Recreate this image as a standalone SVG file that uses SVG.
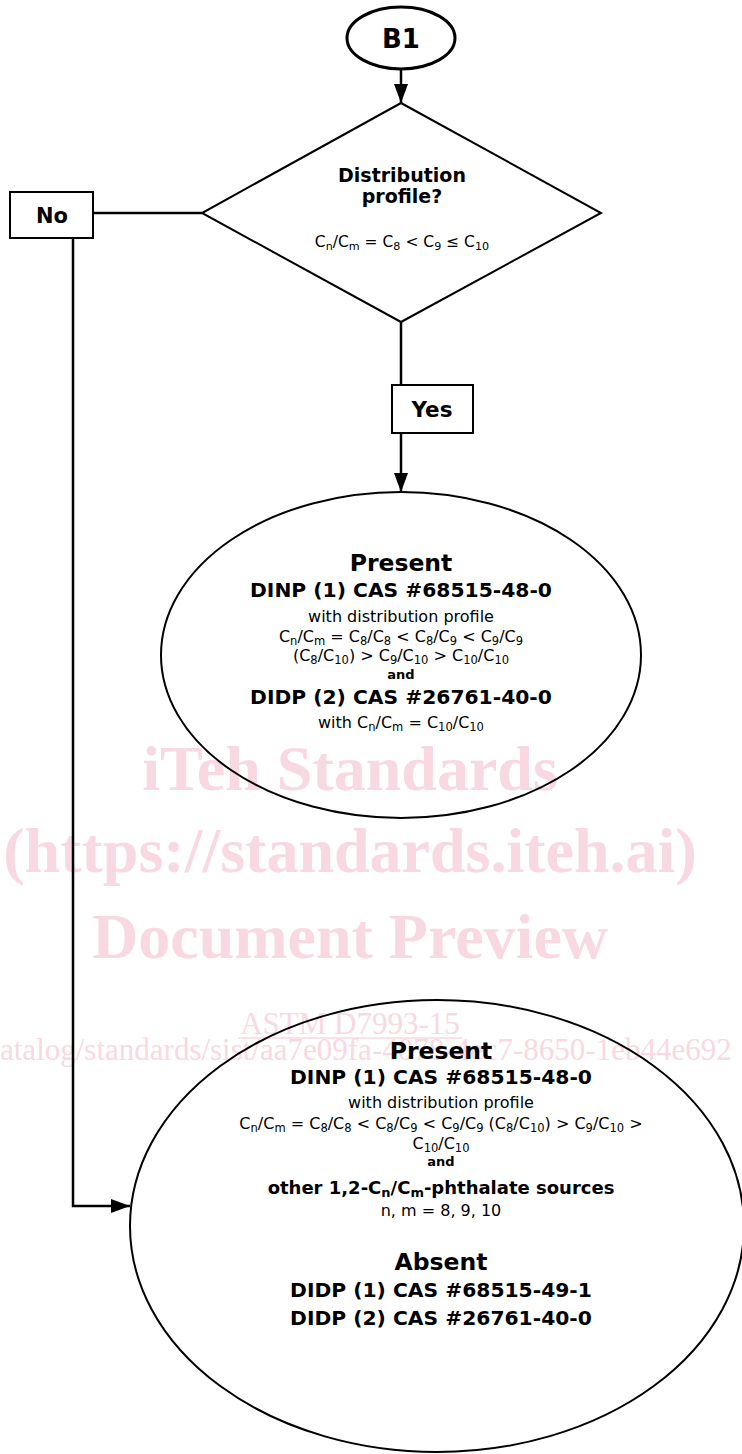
<svg xmlns="http://www.w3.org/2000/svg" width="742" height="1454" viewBox="0 0 742 1454">
<style>
.wm{font-family:"Liberation Serif","Times New Roman",serif;fill:#f8d9e1;text-anchor:middle}
.wmb{font-weight:bold;font-size:64px}
.wms{font-size:31px}
.shape{fill:none;stroke:#000;stroke-width:2}
.t{font-family:"DejaVu Sans",Verdana,sans-serif;fill:#000;text-anchor:middle}
.b{font-weight:bold}
.r{font-size:16px}
.h{font-size:20.3px;font-weight:bold}
.s{font-size:72%;baseline-shift:-3px}
.conn{fill:none;stroke:#000;stroke-width:2.5}
</style>
<defs>
<marker id="ah" markerUnits="userSpaceOnUse" markerWidth="20" markerHeight="14" refX="19" refY="7" orient="auto">
<path d="M0,0 L19,7 L0,14 z" fill="#000"/>
</marker>
</defs>
<rect width="742" height="1454" fill="#fff"/>
<g id="watermark">
<text class="wm wmb" x="350" y="790">iTeh Standards</text>
<text class="wm wmb" x="350" y="872">(https://standards.iteh.ai)</text>
<text class="wm wmb" x="350" y="958">Document Preview</text>
<text class="wm wms" x="350" y="1034">ASTM D7993-15</text>
<line x1="238" y1="1038" x2="462" y2="1038" stroke="#f8d9e1" stroke-width="1.5"/>
<text class="wm wms" x="0" y="1060" style="text-anchor:start">atalog/standards/sist/aa7e09fa-4078-4ec7-8650-1eb44e692</text>
</g>
<g id="connectors">
<line class="conn" x1="401" y1="69" x2="401" y2="103" marker-end="url(#ah)"/>
<line class="conn" x1="202" y1="213" x2="93" y2="213"/>
<polyline class="conn" points="73,238 73,1206 130,1206" marker-end="url(#ah)"/>
<line class="conn" x1="401" y1="322" x2="401" y2="385"/>
<line class="conn" x1="401" y1="433" x2="401" y2="492" marker-end="url(#ah)"/>
</g>
<g id="b1">
<ellipse cx="401" cy="38" rx="54" ry="31" fill="#fff" stroke="#000" stroke-width="3"/>
<text class="t b" x="401" y="48" font-size="26">B1</text>
</g>
<g id="decision">
<polygon class="shape" points="401,103 601,213 401,322 202,213" fill="#fff"/>
<text class="t b" x="402" y="182" font-size="19">Distribution</text>
<text class="t b" x="402" y="203" font-size="19">profile?</text>
<text class="t" x="402" y="247" font-size="15.5">C<tspan class="s">n</tspan>/C<tspan class="s">m</tspan> = C<tspan class="s">8</tspan> &lt; C<tspan class="s">9</tspan> ≤ C<tspan class="s">10</tspan></text>
</g>
<g id="no">
<rect class="shape" x="10" y="192" width="83" height="46" fill="#fff"/>
<text class="t b" x="52" y="223" font-size="21">No</text>
</g>
<g id="yes">
<rect class="shape" x="392" y="385" width="81" height="48" fill="#fff"/>
<text class="t b" x="432" y="417" font-size="21.5">Yes</text>
</g>
<g id="result1">
<ellipse class="shape" cx="401" cy="655" rx="240" ry="163"/>
<text class="t b" x="401" y="571" font-size="23.5">Present</text>
<text class="t h" x="401" y="597">DINP (1) CAS #68515-48-0</text>
<text class="t r" x="401" y="622">with distribution profile</text>
<text class="t r" x="401" y="642">C<tspan class="s">n</tspan>/C<tspan class="s">m</tspan> = C<tspan class="s">8</tspan>/C<tspan class="s">8</tspan> &lt; C<tspan class="s">8</tspan>/C<tspan class="s">9</tspan> &lt; C<tspan class="s">9</tspan>/C<tspan class="s">9</tspan></text>
<text class="t r" x="401" y="661">(C<tspan class="s">8</tspan>/C<tspan class="s">10</tspan>) &gt; C<tspan class="s">9</tspan>/C<tspan class="s">10</tspan> &gt; C<tspan class="s">10</tspan>/C<tspan class="s">10</tspan></text>
<text class="t b" x="401" y="679" font-size="13">and</text>
<text class="t h" x="401" y="704">DIDP (2) CAS #26761-40-0</text>
<text class="t r" x="401" y="728">with C<tspan class="s">n</tspan>/C<tspan class="s">m</tspan> = C<tspan class="s">10</tspan>/C<tspan class="s">10</tspan></text>
</g>
<g id="result2">
<ellipse class="shape" cx="437" cy="1226" rx="307" ry="226"/>
<text class="t b" x="441" y="1059" font-size="23.5">Present</text>
<text class="t h" x="441" y="1084">DINP (1) CAS #68515-48-0</text>
<text class="t r" x="441" y="1108">with distribution profile</text>
<text class="t r" x="441" y="1129">C<tspan class="s">n</tspan>/C<tspan class="s">m</tspan> = C<tspan class="s">8</tspan>/C<tspan class="s">8</tspan> &lt; C<tspan class="s">8</tspan>/C<tspan class="s">9</tspan> &lt; C<tspan class="s">9</tspan>/C<tspan class="s">9</tspan> (C<tspan class="s">8</tspan>/C<tspan class="s">10</tspan>) &gt; C<tspan class="s">9</tspan>/C<tspan class="s">10</tspan> &gt;</text>
<text class="t r" x="441" y="1149">C<tspan class="s">10</tspan>/C<tspan class="s">10</tspan></text>
<text class="t b" x="441" y="1166" font-size="13">and</text>
<text class="t b" x="441" y="1194" font-size="18">other 1,2-C<tspan class="s">n</tspan>/C<tspan class="s">m</tspan>-phthalate sources</text>
<text class="t r" x="441" y="1216">n, m = 8, 9, 10</text>
<text class="t b" x="441" y="1270" font-size="23.5">Absent</text>
<text class="t h" x="441" y="1297">DIDP (1) CAS #68515-49-1</text>
<text class="t h" x="441" y="1325">DIDP (2) CAS #26761-40-0</text>
</g>
</svg>
